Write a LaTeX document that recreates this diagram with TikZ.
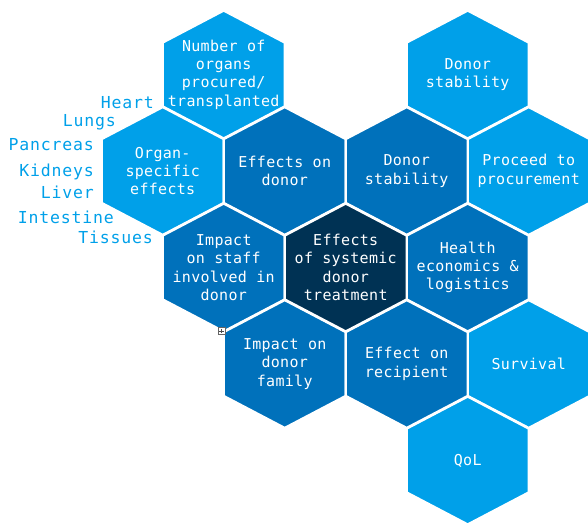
\documentclass[tikz,border=0pt]{standalone}
\usepackage{fontspec}
\newfontfamily\hexfont[LetterSpace=2]{DejaVu Sans Mono}
\newfontfamily\organfont[LetterSpace=5]{DejaVu Sans Mono}
\definecolor{lightblue}{RGB}{0,160,233}
\definecolor{midblue}{RGB}{0,113,187}
\definecolor{navy}{RGB}{0,50,84}
\tikzset{
  cellpath/.style={draw=white, line width=2.4pt, line join=miter},
  celltext/.style={text=white, align=center, inner sep=0pt,
    font={\hexfont\fontsize{15}{18.3}\selectfont}},
  organ/.style={text=lightblue, inner sep=0pt, anchor=east,
    font={\organfont\fontsize{16.5}{19}\selectfont}},
}
% #1 name, #2 x, #3 y, #4 fill colour, #5 text
\newcommand\hexcell[5]{%
  \path[cellpath, fill=#4] (#2,#3) ++(0,-64) -- ++(61,32) -- ++(0,64)
    -- ++(-61,32) -- ++(-61,-32) -- ++(0,-64) -- cycle;
  \node[celltext] (#1) at (#2,#3) {#5};
}
\begin{document}
\begin{tikzpicture}[x=1pt, y=-1pt]
\useasboundingbox (0,0) rectangle (588,525);
% outer ring
\hexcell{organs}{223.7}{74.5}{lightblue}{Number of\\organs\\procured/\\transplanted}
\hexcell{organspec}{162.7}{171}{lightblue}{Organ-\\specific\\effects}
\hexcell{stabtop}{467.7}{74.5}{lightblue}{Donor\\stability}
\hexcell{proceed}{528.7}{171}{lightblue}{Proceed to\\procurement}
\hexcell{survival}{528.7}{364}{lightblue}{Survival}
\hexcell{qol}{467.7}{460.5}{lightblue}{QoL}
% inner ring
\hexcell{effdonor}{284.7}{171}{midblue}{Effects on\\donor}
\hexcell{stabmid}{406.7}{171}{midblue}{Donor\\stability}
\hexcell{staff}{223.7}{267.5}{midblue}{Impact\\on staff\\involved in\\donor}
\hexcell{health}{467.7}{267.5}{midblue}{Health\\economics \&\\logistics}
\hexcell{family}{284.7}{364}{midblue}{Impact on\\donor\\family}
\hexcell{recipient}{406.7}{364}{midblue}{Effect on\\recipient}
% centre
\hexcell{centre}{345.7}{267.5}{navy}{Effects\\of systemic\\donor\\treatment}
% organ list
\node[organ] (heart) at (154,103) {Heart};
\node[organ] (lungs) at (116,122) {Lungs};
\node[organ] (pancreas) at (94,145) {Pancreas};
\node[organ] (kidneys) at (94,171.5) {Kidneys};
\node[organ] (liver) at (94,192) {Liver};
\node[organ] (intestine) at (114,217) {Intestine};
\node[organ] (tissues) at (153,237) {Tissues};
% small handle marker
\node[draw=black!60, fill=white, line width=0.6pt, minimum size=7pt,
  inner sep=0pt] (handle) at (221.5,331) {};
\draw[black!70, line width=0.6pt] ([xshift=-2.2pt]handle.center) -- ([xshift=2.2pt]handle.center)
  ([yshift=-2.2pt]handle.center) -- ([yshift=2.2pt]handle.center);
\end{tikzpicture}
\end{document}
